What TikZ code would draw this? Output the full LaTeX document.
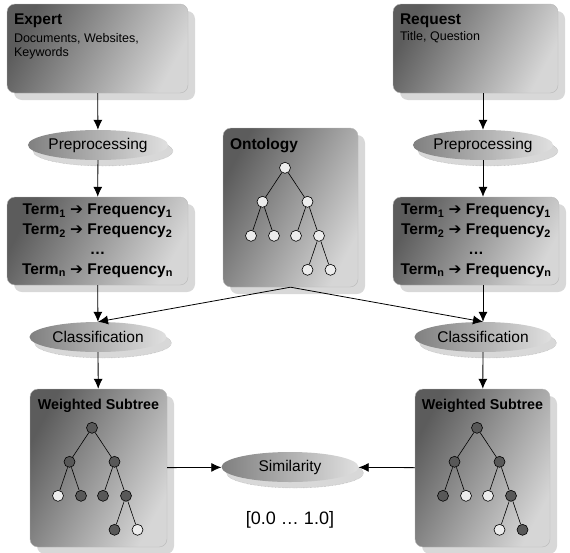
\documentclass[tikz,border=0pt]{standalone}
\usepackage{fontspec}
\setmainfont{Liberation Sans}
\newfontfamily\symfont{DejaVu Sans}
\usepackage{tikz}
\usetikzlibrary{calc,shapes.geometric,shadows,arrows.meta}

\definecolor{boxdark}{RGB}{92,92,92}
\definecolor{boxmid}{RGB}{190,190,190}
\definecolor{boxlight}{RGB}{214,214,214}
\definecolor{shade}{RGB}{216,216,216}
\definecolor{elldark}{RGB}{128,128,128}
\definecolor{elllight}{RGB}{224,224,224}
\definecolor{dotdark}{RGB}{88,88,88}
\definecolor{dotlight}{RGB}{236,236,236}

\begin{document}
\begin{tikzpicture}[x=1pt,y=-1pt,
  panel/.style={rectangle, rounded corners=8pt, draw=gray!55, line width=0.4pt,
    top color=boxdark, middle color=boxmid, bottom color=boxlight, shading angle=62,
    drop shadow={shadow xshift=7pt, shadow yshift=-7pt, fill=shade, opacity=1}},
  proc/.style={ellipse, minimum width=137pt, minimum height=30pt, inner sep=0pt,
    left color=elldark, right color=elllight,
    drop shadow={shadow xshift=5pt, shadow yshift=-6pt, fill=shade, draw=gray!70,
      densely dotted, opacity=1},
    font=\fontsize{15.5}{18}\selectfont},
  ttl/.style={inner sep=0pt, font=\fontsize{15.5}{18}\selectfont\bfseries},
  sub/.style={inner sep=0pt, align=left, font=\fontsize{12.5}{14.5}\selectfont},
  terms/.style={align=center, font=\fontsize{15.5}{20}\selectfont\bfseries},
  conn/.style={line width=0.8pt, -{Latex[length=10pt,width=9pt]}},
  tn/.style={circle, draw=black, line width=0.6pt, minimum size=11pt, inner sep=0pt, fill=dotlight},
  td/.style={tn, fill=dotdark},
  tree/.style={level distance=34pt, edge from parent/.style={draw, line width=0.6pt},
    level 1/.style={sibling distance=45pt},
    level 2/.style={sibling distance=23pt},
    level 3/.style={sibling distance=23pt}}]

  \useasboundingbox (0,0) rectangle (570,552);

  %% Input boxes
  \node[panel, minimum width=181pt, minimum height=89pt] (EXPERT) at (97.5,48.5) {};
  \node[ttl, anchor=base west] (EXPT) at ($(EXPERT.north west)+(7,21)$) {Expert};
  \node[sub, anchor=north west] (EXPS) at ($(EXPERT.north west)+(7,29)$) {Documents, Websites,\\Keywords};

  \node[panel, minimum width=165pt, minimum height=89pt] (REQUEST) at (475.5,48.5) {};
  \node[ttl, anchor=base west] (REQT) at ($(REQUEST.north west)+(7,21)$) {Request};
  \node[sub, anchor=base west] (REQS) at ($(REQUEST.north west)+(7,37)$) {Title, Question};

  %% Preprocessing
  \node[proc] (PREL) at (98,145) {Preprocessing};
  \node[proc] (PRER) at (483,145) {Preprocessing};

  %% Term frequency lists
  \node[panel, terms, minimum width=181pt, minimum height=88pt] (TERML) at (97.5,241)
    {Term\textsubscript{1} {\symfont ➔} Frequency\textsubscript{1}\\
     Term\textsubscript{2} {\symfont ➔} Frequency\textsubscript{2}\\
     …\\
     Term\textsubscript{n} {\symfont ➔} Frequency\textsubscript{n}};
  \node[panel, terms, minimum width=166pt, minimum height=88pt] (TERMR) at (476,241)
    {Term\textsubscript{1} {\symfont ➔} Frequency\textsubscript{1}\\
     Term\textsubscript{2} {\symfont ➔} Frequency\textsubscript{2}\\
     …\\
     Term\textsubscript{n} {\symfont ➔} Frequency\textsubscript{n}};

  %% Ontology
  \node[panel, minimum width=135pt, minimum height=159pt] (ONTO) at (290.5,207.5) {};
  \node[ttl, anchor=base west] (ONTT) at ($(ONTO.north west)+(7,22)$) {Ontology};
  \node[tn] (OROOT) at ($(ONTO.north)+(-5.5,40)$) {} [tree]
    child {node[tn] {} child {node[tn] {}} child {node[tn] {}}}
    child {node[tn] {} child {node[tn] {}}
      child {node[tn] {} child {node[tn] {}} child {node[tn] {}}}};

  %% Classification
  \node[proc] (CLASSL) at (98,337) {Classification};
  \node[proc] (CLASSR) at (483,337) {Classification};

  %% Weighted subtrees
  \node[panel, minimum width=137pt, minimum height=158pt] (SUBL) at (98.5,468) {};
  \node[ttl, anchor=base, font=\fontsize{14.3}{17}\selectfont\bfseries] (SUBLT) at ($(SUBL.north)+(0,21)$) {Weighted Subtree};
  \node[td] (LROOT) at ($(SUBL.north)+(-6.5,39)$) {} [tree]
    child {node[td] {} child {node[tn] {}} child {node[td] {}}}
    child {node[td] {} child {node[td] {}}
      child {node[td] {} child {node[td] {}} child {node[tn] {}}}};

  \node[panel, minimum width=135pt, minimum height=158pt] (SUBR) at (482.5,468) {};
  \node[ttl, anchor=base, font=\fontsize{14.3}{17}\selectfont\bfseries] (SUBRT) at ($(SUBR.north)+(0,21)$) {Weighted Subtree};
  \node[td] (RROOT) at ($(SUBR.north)+(-5.5,39)$) {} [tree]
    child {node[td] {} child {node[td] {}} child {node[tn] {}}}
    child {node[td] {} child {node[tn] {}}
      child {node[td] {} child {node[tn] {}} child {node[td] {}}}};

  %% Similarity
  \node[proc] (SIM) at (290,467) {Similarity};
  \node[font=\fontsize{18}{20}\selectfont] (RANGE) at (290,520) {[0.0 … 1.0]};

  %% Connectors
  \draw[conn] (EXPERT) -- (PREL);
  \draw[conn] (PRER |- REQUEST.south) -- (PRER);
  \draw[conn] (PREL) -- (TERML);
  \draw[conn] (PRER) -- (PRER |- TERMR.north);
  \draw[conn] (TERML) -- (CLASSL);
  \draw[conn] (CLASSR |- TERMR.south) -- (CLASSR);
  \draw[conn] (ONTO.south) -- (CLASSL.north);
  \draw[conn] (ONTO.south) -- (CLASSR.north);
  \draw[conn] (CLASSL) -- (SUBL);
  \draw[conn] (CLASSR) -- (SUBR);
  \draw[conn] (SUBL) -- (SIM);
  \draw[conn] (SUBR) -- (SIM);
\end{tikzpicture}
\end{document}
